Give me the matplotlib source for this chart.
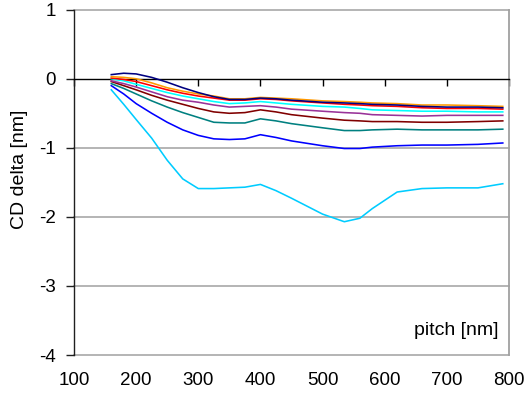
import matplotlib
matplotlib.use("Agg")
import matplotlib.pyplot as plt

plt.rcParams['font.family'] = ['Liberation Sans', 'DejaVu Sans']

# pitch positions [nm]
pitch = [160, 180, 200, 225, 250, 275, 300, 325, 350, 375, 400, 425, 450,
         500, 535, 560, 580, 620, 660, 700, 750, 790]

# CD delta [nm] for each condition
cd_navy = [0.06, 0.08, 0.07, 0.02, -0.05, -0.13, -0.20, -0.26, -0.30, -0.30, -0.28,
           -0.29, -0.31, -0.34, -0.35, -0.36, -0.37, -0.38, -0.40, -0.41, -0.41, -0.42]
cd_orange = [0.03, 0.02, 0.00, -0.06, -0.13, -0.18, -0.22, -0.25, -0.29, -0.29, -0.27,
             -0.28, -0.29, -0.32, -0.33, -0.34, -0.35, -0.36, -0.38, -0.38, -0.39, -0.40]
cd_red = [0.01, -0.01, -0.04, -0.10, -0.16, -0.21, -0.25, -0.28, -0.31, -0.31, -0.29,
          -0.30, -0.32, -0.35, -0.37, -0.38, -0.39, -0.40, -0.42, -0.43, -0.43, -0.44]
cd_cyan = [0.00, -0.03, -0.08, -0.14, -0.20, -0.25, -0.29, -0.33, -0.36, -0.35, -0.33,
           -0.35, -0.37, -0.40, -0.41, -0.43, -0.45, -0.46, -0.47, -0.47, -0.48, -0.48]
cd_purple = [-0.03, -0.07, -0.12, -0.19, -0.26, -0.31, -0.34, -0.38, -0.41, -0.40, -0.39,
             -0.41, -0.44, -0.47, -0.49, -0.50, -0.52, -0.53, -0.54, -0.53, -0.53, -0.53]
cd_maroon = [-0.04, -0.10, -0.16, -0.24, -0.31, -0.37, -0.43, -0.48, -0.50, -0.49, -0.45,
             -0.48, -0.52, -0.57, -0.60, -0.61, -0.62, -0.62, -0.63, -0.63, -0.62, -0.61]
cd_teal = [-0.07, -0.14, -0.22, -0.32, -0.41, -0.49, -0.56, -0.63, -0.64, -0.64, -0.58,
           -0.61, -0.65, -0.71, -0.75, -0.75, -0.74, -0.73, -0.74, -0.74, -0.74, -0.73]
cd_blue = [-0.10, -0.22, -0.36, -0.50, -0.63, -0.74, -0.82, -0.87, -0.88, -0.87, -0.81,
           -0.85, -0.90, -0.97, -1.01, -1.01, -0.99, -0.97, -0.96, -0.96, -0.95, -0.93]
cd_sky = [-0.16, -0.37, -0.59, -0.86, -1.18, -1.45, -1.59, -1.59, -1.58, -1.57, -1.53,
          -1.62, -1.73, -1.96, -2.07, -2.02, -1.88, -1.64, -1.59, -1.58, -1.58, -1.52]

series = [
    (cd_sky, '#00CCFF'),
    (cd_blue, '#0000FF'),
    (cd_teal, '#008080'),
    (cd_maroon, '#800000'),
    (cd_purple, '#993399'),
    (cd_cyan, '#00FFFF'),
    (cd_red, '#FF0000'),
    (cd_orange, '#FF9900'),
    (cd_navy, '#000080'),
]

x_ticks = [100, 200, 300, 400, 500, 600, 700, 800]
y_ticks = [1, 0, -1, -2, -3, -4]

W, H = 527, 397
fig = plt.figure(figsize=(W / 100, H / 100), dpi=100)
ax = fig.add_axes([74 / W, 1 - 355 / H, 435 / W, 345.3 / H])

ax.set_xlim(100, 800)
ax.set_ylim(-4, 1)

# horizontal gridlines
for yv in y_ticks:
    if yv != 0:
        ax.axhline(yv, color='#a0a0a0', lw=1.1, zorder=0, clip_on=False)

for vals, col in series:
    ax.plot(pitch, vals, color=col, lw=1.15, zorder=3,
            solid_joinstyle='round')

# x axis crosses at y = 0, tick marks hang below it
ax.spines['bottom'].set_position(('data', 0))
ax.spines['bottom'].set_color('black')
ax.spines['bottom'].set_linewidth(1.0)
ax.spines['top'].set_visible(False)
ax.spines['right'].set_color('#a0a0a0')
ax.spines['right'].set_linewidth(1.3)
ax.spines['left'].set_color('#202020')
ax.spines['left'].set_linewidth(1.0)

ax.set_xticks(x_ticks)
ax.tick_params(axis='x', direction='out', length=5, width=1, color='black',
               labelbottom=False)
ax.set_yticks(y_ticks)
ax.set_yticklabels([str(v) for v in y_ticks])
ax.tick_params(axis='y', direction='out', length=6, width=1, color='#202020',
               labelsize=13.5, pad=7)

# tick labels along the lower edge of the plot
sec = ax.secondary_xaxis(0.0)
sec.set_xticks(x_ticks)
sec.set_xticklabels([str(v) for v in x_ticks])
sec.tick_params(length=0, labelsize=13.5, pad=12)
sec.spines['bottom'].set_visible(False)

ax.text(0.977, 0.072, 'pitch [nm]', transform=ax.transAxes, ha='right',
        va='center', fontsize=14)
fig.text(20 / W, 1 - 169 / H, 'CD delta [nm]', rotation=90, ha='center',
         va='center', fontsize=14)

fig.savefig('out.png', dpi=100)
